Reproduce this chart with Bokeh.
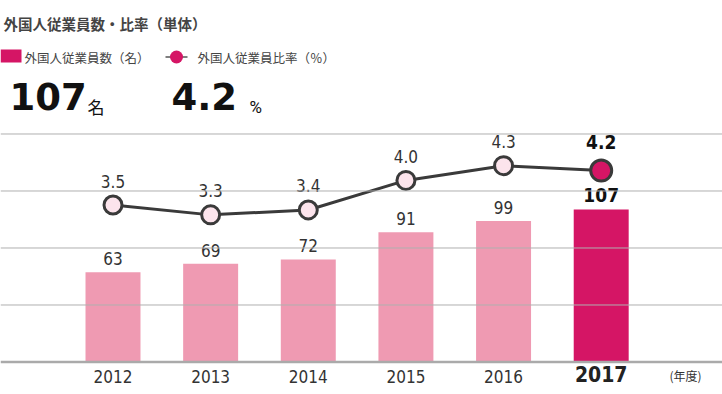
from bokeh.plotting import figure
from bokeh.models import Range1d, Span, ColumnDataSource
from bokeh.core.properties import value
from bokeh.embed import file_html
from bokeh.resources import INLINE

# ---- data ----
years = ["2012", "2013", "2014", "2015", "2016", "2017"]
employees = [63, 69, 72, 91, 99, 107]
rates = [3.5, 3.3, 3.4, 4.0, 4.3, 4.2]
rate_labels = ["3.5", "3.3", "3.4", "4.0", "4.3", "4.2"]
grid_ticks = [40, 80, 120, 160]
title_text = "外国人従業員数・比率（単体）"
legend_bar = "外国人従業員数（名）"
legend_line = "外国人従業員比率（％）"
unit_label = "(年度)"

W, H = 722, 394
XS, XE = -1.1522, 6.2423
YS, YE = -22.81, 253.68
RS, RE = -0.351, 7.657

PINK = "#ef9ab2"
MAGENTA = "#d51565"
LIGHT = "#fce4ec"
DARK = "#3a3a3a"
NARROW = "DejaVu Sans Condensed"
CJK = "Noto Sans CJK JP"


def fx(px):
    return XS + px / W * (XE - XS)


def fy(py):
    return YE - py / H * (YE - YS)


p = figure(width=W, height=H, output_backend="svg", toolbar_location=None,
           x_range=Range1d(XS, XE), y_range=Range1d(YS, YE),
           x_axis_type=None, y_axis_type=None, min_border=0,
           outline_line_color=None, background_fill_color="white")
p.grid.visible = False
p.extra_y_ranges = {"rate": Range1d(RS, RE)}

for t in grid_ticks:
    p.add_layout(Span(location=t, dimension="width", line_color="#b0b0b0", line_width=1))
p.add_layout(Span(location=0, dimension="width", line_color="#aaaaaa", line_width=2.5))

idx = list(range(len(years)))
n = len(years)
last = n - 1

src = ColumnDataSource(dict(
    x=idx, emp=employees, rate=rates,
    color=[PINK] * last + [MAGENTA],
))
src_old = ColumnDataSource(dict(x=idx[:last], emp=employees[:last], rate=rates[:last],
                                year=years[:last], rl=rate_labels[:last],
                                el=[str(v) for v in employees[:last]]))
src_new = ColumnDataSource(dict(x=idx[last:], emp=employees[last:], rate=rates[last:],
                                year=years[last:], rl=rate_labels[last:],
                                el=[str(v) for v in employees[last:]]))

# bars
p.vbar(x="x", top="emp", bottom=0, width=0.563, fill_color="color", line_color=None, source=src)

# line + markers
p.line(x="x", y="rate", line_color=DARK, line_width=3, y_range_name="rate", source=src)
p.scatter(x="x", y="rate", size=18, fill_color=LIGHT, line_color=DARK, line_width=3,
          y_range_name="rate", source=src_old)
p.scatter(x="x", y="rate", size=21, fill_color=MAGENTA, line_color=DARK, line_width=3,
          y_range_name="rate", source=src_new)

# value labels
p.text(x="x", y="emp", text="el", source=src_old, text_font=value(NARROW), text_font_size="17px",
       text_align="center", text_baseline="middle", y_offset=-13.5, text_color="#333333")
p.text(x="x", y="emp", text="el", source=src_new, text_font=value(NARROW), text_font_size="19px",
       text_font_style="bold", text_align="center", text_baseline="middle", y_offset=-15,
       text_color="#111111")
p.text(x="x", y="rate", text="rl", source=src_old, y_range_name="rate", text_font=value(NARROW),
       text_font_size="17px", text_align="center", text_baseline="middle", y_offset=-24,
       text_color="#333333")
p.text(x="x", y="rate", text="rl", source=src_new, y_range_name="rate", text_font=value(NARROW),
       text_font_size="19px", text_font_style="bold", text_align="center",
       text_baseline="middle", y_offset=-29, text_color="#111111")

# year labels
p.text(x="x", y=0, text="year", source=src_old, text_font=value(NARROW), text_font_size="17px",
       text_align="center", text_baseline="middle", y_offset=14.5, text_color="#333333")
p.text(x="x", y=0, text="year", source=src_new, text_font=value(NARROW), text_font_size="21px",
       text_font_style="bold", text_align="center", text_baseline="middle", y_offset=12.5,
       text_color="#222222")
p.text(x=[fx(669)], y=[fy(375)], text=[unit_label], text_font=value(CJK), text_font_size="12px",
       text_align="left", text_baseline="middle", text_color="#333333")

# ---- header ----
p.text(x=[fx(3)], y=[fy(22.5)], text=[title_text], text_font=value(CJK), text_font_size="14.5px",
       text_font_style="bold", text_align="left", text_baseline="middle", text_color="#444444")

p.quad(left=[fx(0)], right=[fx(21)], top=[fy(49)], bottom=[fy(62)], fill_color=MAGENTA,
       line_color=None)
p.text(x=[fx(24)], y=[fy(56.5)], text=[legend_bar], text_font=value(CJK), text_font_size="12.5px",
       text_align="left", text_baseline="middle", text_color="#444444")
p.line(x=[fx(165), fx(187)], y=[fy(56.5), fy(56.5)], line_color="#555555", line_width=1.5)
p.scatter(x=[fx(176)], y=[fy(56.5)], size=13, fill_color=MAGENTA, line_color=None)
p.text(x=[fx(197)], y=[fy(56.5)], text=[legend_line], text_font=value(CJK), text_font_size="12.5px",
       text_align="left", text_baseline="middle", text_color="#444444")

p.text(x=[fx(9)], y=[fy(95.5)], text=[str(employees[last])], text_font=value("DejaVu Sans"),
       text_font_size="37px", text_font_style="bold", text_align="left",
       text_baseline="middle", text_color="#111111")
p.text(x=[fx(87)], y=[fy(106)], text=["名"], text_font=value(CJK), text_font_size="17px",
       text_align="left", text_baseline="middle", text_color="#111111")
p.text(x=[fx(171)], y=[fy(95.5)], text=[rate_labels[last]], text_font=value("DejaVu Sans"),
       text_font_size="37px", text_font_style="bold", text_align="left",
       text_baseline="middle", text_color="#111111")
p.text(x=[fx(249)], y=[fy(106.5)], text=["%"], text_font=value("Roboto"), text_font_size="17px",
       text_align="left", text_baseline="middle", text_color="#111111")

open("out.html", "w").write(file_html(p, INLINE))
